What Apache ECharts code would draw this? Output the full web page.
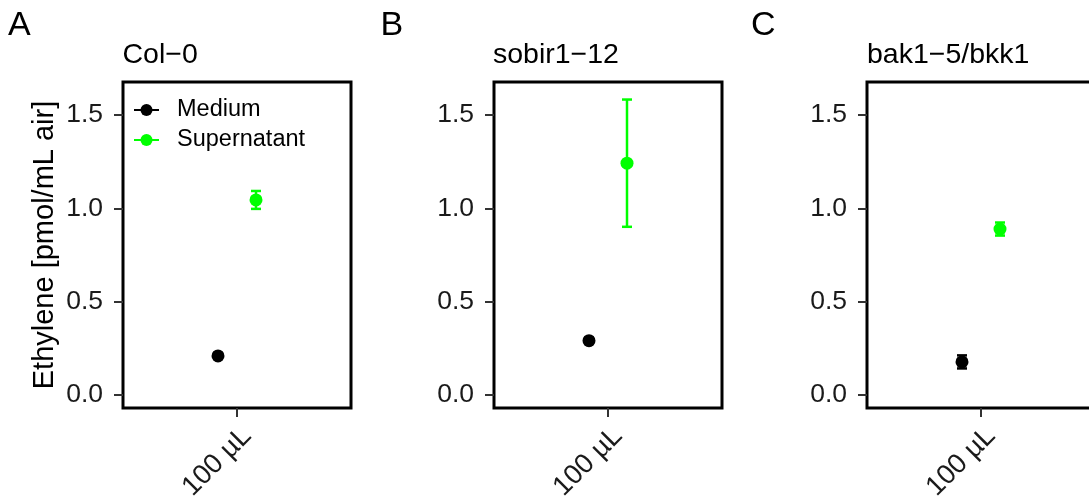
<!DOCTYPE html>
<html>
<head>
<meta charset="utf-8">
<script src="https://cdn.jsdelivr.net/npm/echarts@6/dist/echarts.min.js"></script>
<style>
  html, body { margin: 0; padding: 0; background: #fff; }
  #chart { width: 1089px; height: 498px; }
</style>
</head>
<body>
<div id="chart"></div>
<script>
// Ethylene production per genotype, mean ± error
const panelLetters = ['A', 'B', 'C'];
const genotypes = ['Col\u22120', 'sobir1\u221212', 'bak1\u22125/bkk1'];
const doses = ['100 µL'];
const treatments = ['Medium', 'Supernatant'];
const treatmentColors = ['#000000', '#00ff00'];
const mediumMean = [0.209, 0.291, 0.177];
const mediumErr = [0.015, 0.015, 0.035];
const supernatantMean = [1.045, 1.242, 0.889];
const supernatantErr = [0.048, 0.341, 0.035];
const yTicks = [0, 0.5, 1.0, 1.5];

// layout of the three facet panels
const FONT = '"Liberation Sans", Arial, Helvetica, sans-serif';
const panelLeft = [123, 494, 867];
const panelWidth = 228;
const panelTop = 82;
const panelHeight = 326;
const dodge = 0.1;   // horizontal offset of each treatment around the dose position

const means = [mediumMean, supernatantMean];
const errs = [mediumErr, supernatantErr];

const grids = [], xAxes = [], yAxes = [], series = [], titles = [];
const tickStyle = { color: '#333', width: 2 };

genotypes.forEach((g, i) => {
  grids.push({
    left: panelLeft[i], top: panelTop, width: panelWidth, height: panelHeight,
    outerBoundsMode: 'none', containLabel: false,
    show: true, borderColor: '#000', borderWidth: 3, backgroundColor: '#fff'
  });
  xAxes.push({
    type: 'value', gridIndex: i, min: 0.4, max: 1.6, position: 'bottom',
    axisLine: { show: false, onZero: false },
    splitLine: { show: false },
    axisTick: { show: true, customValues: [1], length: 9, lineStyle: tickStyle },
    axisLabel: {
      show: true, customValues: [1], rotate: 45, margin: 14, verticalAlign: 'top',
      formatter: v => doses[Math.round(v) - 1] || '',
      fontFamily: FONT, fontSize: 27.5, color: '#1a1a1a'
    }
  });
  yAxes.push({
    type: 'value', gridIndex: i, min: -0.07, max: 1.677, position: 'left',
    name: i === 0 ? 'Ethylene [pmol/mL air]' : '',
    nameLocation: 'middle', nameGap: 64, nameRotate: 90,
    nameTextStyle: { fontFamily: FONT, fontSize: 29, color: '#000' },
    axisLine: { show: false, onZero: false },
    splitLine: { show: false },
    axisTick: { show: true, customValues: yTicks, length: 9, lineStyle: tickStyle },
    axisLabel: {
      show: true, customValues: yTicks, margin: 20,
      formatter: v => v.toFixed(1),
      fontFamily: FONT, fontSize: 26.5, color: '#1a1a1a'
    }
  });
  titles.push({
    text: panelLetters[i], left: [8, 380.5, 751][i], top: 9, padding: 0,
    textStyle: { fontFamily: FONT, fontSize: 34, fontWeight: 'normal', color: '#000' }
  });
  titles.push({
    text: g, left: [122.5, 493, 867][i], top: 40.5, padding: 0,
    textStyle: { fontFamily: FONT, fontSize: 28.5, fontWeight: 'normal', color: '#000' }
  });

  treatments.forEach((t, k) => {
    const x = 1 + (k === 0 ? -dodge : dodge);
    const m = means[k][i], e = errs[k][i];
    // error bar with caps
    series.push({
      type: 'custom', xAxisIndex: i, yAxisIndex: i, z: 2, silent: true,
      data: [[x, m - e, m + e]],
      renderItem: (params, api) => {
        const lo = api.coord([api.value(0), api.value(1)]);
        const hi = api.coord([api.value(0), api.value(2)]);
        const hw = 5;
        const style = { stroke: treatmentColors[k], lineWidth: 2.5 };
        return {
          type: 'group',
          children: [
            { type: 'line', shape: { x1: hi[0], y1: hi[1], x2: lo[0], y2: lo[1] }, style },
            { type: 'line', shape: { x1: hi[0] - hw, y1: hi[1], x2: hi[0] + hw, y2: hi[1] }, style },
            { type: 'line', shape: { x1: lo[0] - hw, y1: lo[1], x2: lo[0] + hw, y2: lo[1] }, style }
          ]
        };
      }
    });
    // mean point
    series.push({
      type: 'line', name: t, xAxisIndex: i, yAxisIndex: i, z: 3,
      data: [[x, m]],
      symbol: 'circle', symbolSize: 13, showSymbol: true,
      itemStyle: { color: treatmentColors[k] },
      lineStyle: { color: treatmentColors[k], width: 2.5 },
      emphasis: { disabled: true }
    });
  });
});

const chart = echarts.init(document.getElementById('chart'), null, { renderer: 'canvas' });
chart.setOption({
  animation: false,
  backgroundColor: '#fff',
  title: titles,
  grid: grids,
  xAxis: xAxes,
  yAxis: yAxes,
  legend: {
    data: treatments, orient: 'vertical', left: 133, top: 98, padding: 0,
    itemWidth: 25, itemHeight: 15, itemGap: 6,
    textStyle: { fontFamily: FONT, fontSize: 23.5, color: '#000', lineHeight: 24, padding: [0, 0, 0, 13] },
    selectedMode: false
  },
  series: series
});
</script>
</body>
</html>
